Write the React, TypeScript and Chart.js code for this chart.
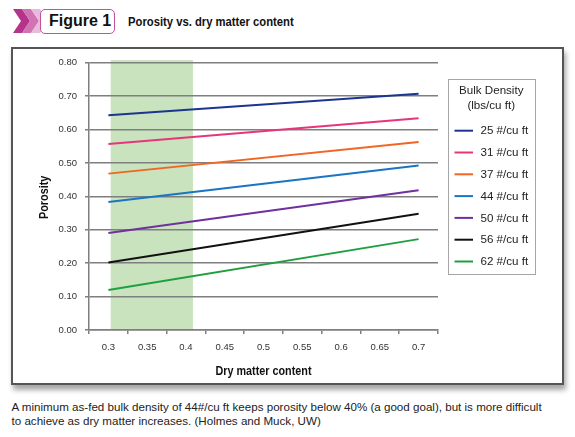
import React, { useEffect, useRef } from 'react';
import { Chart, registerables } from 'chart.js';

Chart.register(...registerables);

// ---------- data ----------
const dryMatter = ['0.3', '0.35', '0.4', '0.45', '0.5', '0.55', '0.6', '0.65', '0.7'];
const seriesLabels = ['25 #/cu ft', '31 #/cu ft', '37 #/cu ft', '44 #/cu ft', '50 #/cu ft', '56 #/cu ft', '62 #/cu ft'];
const bd25 = [0.643, null, null, null, null, null, null, null, 0.707];
const bd31 = [0.557, null, null, null, null, null, null, null, 0.634];
const bd37 = [0.468, null, null, null, null, null, null, null, 0.563];
const bd44 = [0.383, null, null, null, null, null, null, null, 0.492];
const bd50 = [0.290, null, null, null, null, null, null, null, 0.418];
const bd56 = [0.202, null, null, null, null, null, null, null, 0.348];
const bd62 = [0.120, null, null, null, null, null, null, null, 0.272];
const seriesValues = [bd25, bd31, bd37, bd44, bd50, bd56, bd62];
const seriesColors = ['#1b3590', '#e8357a', '#f26522', '#1a75c4', '#7030a0', '#111111', '#1fa040'];
const yMin = 0;
const yMax = 0.8;
const yStep = 0.1;
// shaded recommended dry matter range
const bandRange = [0.303, 0.409];
const bandTop = 0.808;
const dmStart = 0.3;
const dmStep = 0.05;

const legendTitle = ['Bulk Density', '(lbs/cu ft)'];
const xTitle = 'Dry matter content';
const yTitle = 'Porosity';
const figureLabel = 'Figure 1';
const figureTitle = 'Porosity vs. dry matter content';
const caption =
  'A minimum as-fed bulk density of 44#/cu ft keeps porosity below 40% (a good goal), but is more difficult to achieve as dry matter increases. (Holmes and Muck, UW)';

const SANS = "'Liberation Sans', Arial, Helvetica, sans-serif";
const NARROW = "'Liberation Sans Narrow', 'Arial Narrow', 'Liberation Sans', Arial, sans-serif";

const decorPlugin = {
  id: 'decor',
  beforeDraw(chart: any) {
    const { ctx, scales } = chart;
    const x = scales.x;
    const y = scales.y;
    const x0 = x.getPixelForValue((bandRange[0] - dmStart) / dmStep);
    const x1 = x.getPixelForValue((bandRange[1] - dmStart) / dmStep);
    const yt = y.getPixelForValue(bandTop);
    const yb = y.getPixelForValue(0);
    ctx.save();
    ctx.fillStyle = '#c8e3bd';
    ctx.fillRect(x0, yt, x1 - x0, yb - yt);
    ctx.restore();
  },
  afterDraw(chart: any) {
    const { ctx, chartArea } = chart;
    ctx.save();
    // axis titles
    ctx.fillStyle = '#111';
    ctx.font = `bold 12px ${SANS}`;
    ctx.textAlign = 'center';
    ctx.textBaseline = 'middle';
    const cx = (chartArea.left + chartArea.right) / 2;
    ctx.save();
    ctx.translate(cx, chartArea.bottom + 42);
    ctx.scale(0.9, 1);
    ctx.fillText(xTitle, 0, 0);
    ctx.restore();
    ctx.save();
    ctx.translate(32, (chartArea.top + chartArea.bottom) / 2 + 1);
    ctx.rotate(-Math.PI / 2);
    ctx.scale(0.9, 1);
    ctx.fillText(yTitle, 0, 0);
    ctx.restore();

    // legend
    const lx = chartArea.right + 10;
    const ly = chartArea.top + 16;
    const lw = 86.5;
    const lh = 195;
    ctx.fillStyle = '#fff';
    ctx.fillRect(lx, ly, lw, lh);
    ctx.strokeStyle = '#a6a6a6';
    ctx.lineWidth = 1;
    ctx.strokeRect(Math.round(lx) + 0.5, Math.round(ly) + 0.5, Math.round(lw), Math.round(lh));
    ctx.fillStyle = '#222';
    ctx.font = `11.6px ${SANS}`;
    ctx.textAlign = 'center';
    legendTitle.forEach((t, i) => ctx.fillText(t, lx + lw / 2, ly + 12 + i * 15));
    ctx.textAlign = 'left';
    chart.data.datasets.forEach((ds: any, i: number) => {
      const ry = ly + 52 + i * 21.8;
      ctx.strokeStyle = ds.borderColor;
      ctx.lineWidth = 2;
      ctx.beginPath();
      ctx.moveTo(lx + 6.5, ry);
      ctx.lineTo(lx + 25, ry);
      ctx.stroke();
      ctx.fillStyle = '#222';
      ctx.fillText(ds.label, lx + 32.5, ry + 0.5);
    });
    ctx.restore();
  },
};

function PorosityChart() {
  const ref = useRef<HTMLCanvasElement | null>(null);
  useEffect(() => {
    if (!ref.current) return;
    const chart = new Chart(ref.current, {
      type: 'line',
      data: {
        labels: dryMatter,
        datasets: seriesValues.map((vals, i) => ({
          label: seriesLabels[i],
          data: vals,
          borderColor: seriesColors[i],
          backgroundColor: seriesColors[i],
          borderWidth: 2,
          pointRadius: 0,
          spanGaps: true,
          tension: 0,
          fill: false,
        })),
      },
      options: {
        animation: false,
        responsive: false,
        maintainAspectRatio: false,
        layout: { padding: { left: 0, right: 124, top: 12.5, bottom: 0 } },
        plugins: { legend: { display: false }, tooltip: { enabled: false }, title: { display: false } },
        scales: {
          x: {
            type: 'category',
            offset: true,
            grid: { offset: true, drawOnChartArea: false, drawTicks: true, tickLength: 4, color: '#7f7f7f', lineWidth: 1.5 },
            border: { display: true, color: '#7f7f7f', width: 1.5 },
            ticks: { color: '#333', font: { size: 9.5, family: NARROW }, padding: 8, maxRotation: 0, autoSkip: false },
            afterFit(s: any) { s.height = 53; },
          },
          y: {
            min: yMin,
            max: yMax,
            grid: { color: '#7f7f7f', lineWidth: 1.5, tickLength: 4, drawTicks: true },
            border: { display: true, color: '#7f7f7f', width: 1.5 },
            ticks: {
              stepSize: yStep,
              color: '#333',
              font: { size: 9.5, family: NARROW },
              padding: 8,
              callback: (v: any) => Number(v).toFixed(2),
            },
            afterFit(s: any) { s.width = 76; },
          },
        },
      },
      plugins: [decorPlugin],
    } as any);
    return () => chart.destroy();
  }, []);
  return <canvas ref={ref} width={549} height={334} style={{ display: 'block', width: 549, height: 334 }} />;
}

export default function App() {
  return (
    <div style={{ position: 'fixed', left: 0, top: 0, width: 575, height: 437, background: '#fff', overflow: 'hidden', fontFamily: SANS }}>
      <svg style={{ position: 'absolute', left: 0, top: 0 }} width={60} height={40}>
        <polygon points="13,9 22,9 30,21 22,33 13,33 21,21" fill="#b5338a" />
        <polygon points="22,9 31,9 39,21 31,33 22,33 30,21" fill="#d274b4" />
        <polygon points="31,9 40,9 48,21 40,33 31,33 39,21" fill="#e7bcdb" />
      </svg>
      <div
        style={{
          position: 'absolute', left: 40, top: 9, width: 75, height: 25, boxSizing: 'border-box',
          border: '1.5px solid #c4509e', borderRadius: 5, background: '#fff',
        }}
      />
      <div style={{ position: 'absolute', left: 49, top: 13.2, fontSize: 16, lineHeight: '16px', fontWeight: 'bold', color: '#111', whiteSpace: 'nowrap' }}>
        {figureLabel}
      </div>
      <div
        style={{
          position: 'absolute', left: 128, top: 16.1, fontSize: 12.5, lineHeight: '12.5px', fontWeight: 'bold', color: '#111',
          whiteSpace: 'nowrap', transform: 'scaleX(0.9)', transformOrigin: 'left top',
        }}
      >
        {figureTitle}
      </div>
      <div
        style={{
          position: 'absolute', left: 11, top: 47, width: 553, height: 338, boxSizing: 'border-box',
          border: '2px solid #555', background: '#fff', boxShadow: '2px 5px 5px rgba(0,0,0,0.35)',
        }}
      >
        <PorosityChart />
      </div>
      <div style={{ position: 'absolute', left: 11.5, top: 399.7, width: 538, fontSize: 11.6, lineHeight: '14px', color: '#222' }}>
        {caption}
      </div>
    </div>
  );
}
